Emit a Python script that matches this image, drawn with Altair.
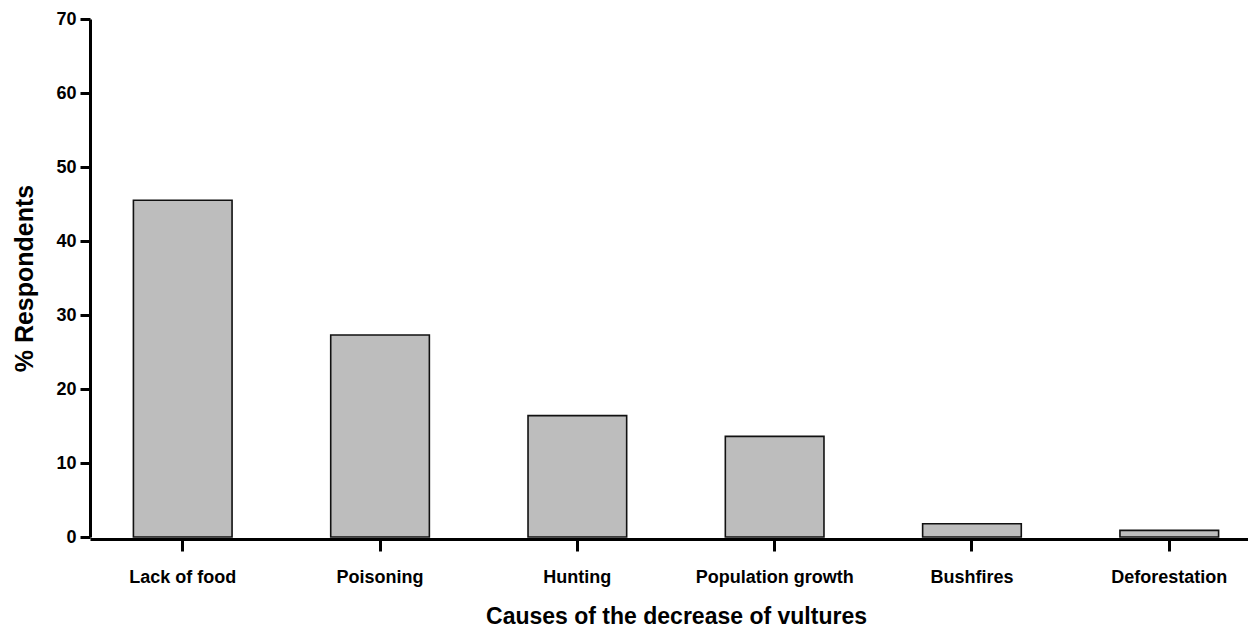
import altair as alt
import pandas as pd

causes = ["Lack of food", "Poisoning", "Hunting", "Population growth", "Bushfires", "Deforestation"]
percent = [45.5, 27.3, 16.4, 13.6, 1.8, 0.9]

df = pd.DataFrame({"cause": causes, "pct": percent})

FONT = "Liberation Sans"

chart = alt.Chart(df).mark_bar(
    fill="#bdbdbd", stroke="#111111", strokeWidth=1.6
).encode(
    x=alt.X("cause:N", sort=causes,
            scale=alt.Scale(paddingInner=0.5, paddingOuter=0.22, range=[0, 1172]),
            axis=alt.Axis(title="Causes of the decrease of vultures", labelAngle=0,
                          domainWidth=3, domainColor="black", tickWidth=3, tickColor="black",
                          tickSize=12, labelPadding=17, labelFontSize=18, labelFontWeight="bold",
                          labelFont=FONT, labelColor="black", titleFont=FONT, titleFontSize=23,
                          titleFontWeight="bold", titleColor="black",
                          titleBaseline="alphabetic", titleY=84, offset=2)),
    y=alt.Y("pct:Q",
            scale=alt.Scale(domain=[0, 70], nice=False),
            axis=alt.Axis(title="% Respondents", values=[0, 10, 20, 30, 40, 50, 60, 70],
                          grid=False, domainWidth=3, domainColor="black", tickWidth=3,
                          tickColor="black", tickSize=10, labelPadding=4, labelFontSize=18,
                          labelFontWeight="bold", labelFont=FONT, labelColor="black",
                          titleFont=FONT, titleFontSize=25, titleFontWeight="bold",
                          titleColor="black", titlePadding=18)),
).properties(
    width=1158, height=518,
    background="white",
    autosize=alt.AutoSizeParams(type="none"),
    padding={"left": 82, "top": 11, "right": 0, "bottom": 92},
).configure_view(strokeWidth=0, stroke="transparent")

chart.save("out.html", embed_options={"renderer": "svg", "actions": False})
